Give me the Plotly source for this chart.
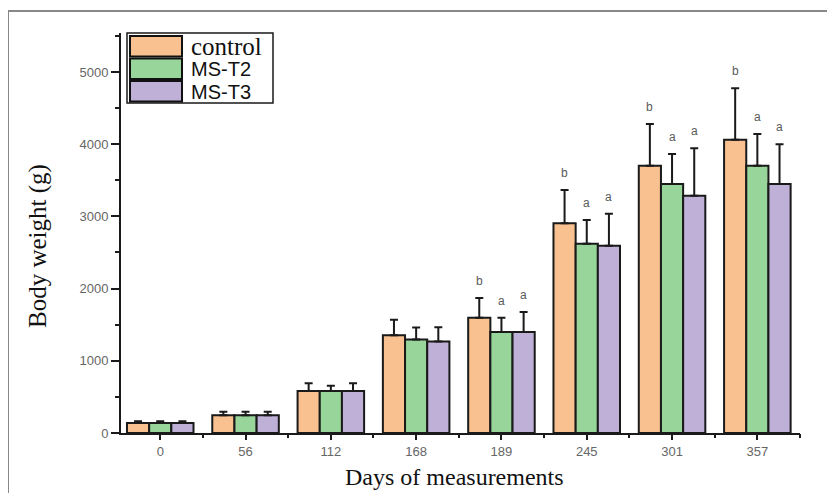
import plotly.graph_objects as go

days = ["0", "56", "112", "168", "189", "245", "301", "357"]
series_names = ["control", "MS-T2", "MS-T3"]
control = [140, 245, 580, 1355, 1595, 2905, 3700, 4060]
ms_t2 = [140, 245, 580, 1295, 1400, 2620, 3450, 3700]
ms_t3 = [140, 245, 580, 1268, 1400, 2595, 3285, 3450]
control_err = [22, 50, 110, 215, 275, 460, 580, 715]
ms_t2_err = [22, 50, 75, 165, 195, 330, 415, 440]
ms_t3_err = [22, 50, 110, 195, 275, 440, 660, 550]
control_lbl = ["", "", "", "", "b", "b", "b", "b"]
ms_t2_lbl = ["", "", "", "", "a", "a", "a", "a"]
ms_t3_lbl = ["", "", "", "", "a", "a", "a", "a"]
y_ticks = [0, 1000, 2000, 3000, 4000, 5000]
x_title = "Days of measurements"
y_title = "Body weight (g)"

colors = ["#F8C18F", "#98D59B", "#BEB0D7"]
values = [control, ms_t2, ms_t3]
errs = [control_err, ms_t2_err, ms_t3_err]
lbls = [control_lbl, ms_t2_lbl, ms_t3_lbl]

# the page body adds an 8px offset; work in screen pixels and convert
OFF = 8
W, H = 835 - 2 * OFF, 501 - 2 * OFF
PL, PR, PT, PB = 121, 800, 33, 433  # plot area in screen pixels
L, R, T, B = PL - OFF, (W + OFF) - PR, PT - OFF, (H + OFF) - PB

pw = PR - PL
ph = PB - PT
def px(x):
    return (x - PL) / pw
def py(y):
    return (PB - y) / ph

fig = go.Figure()
for name, vals, err, col in zip(series_names, values, errs, colors):
    fig.add_trace(go.Bar(
        x=days, y=vals, name=name,
        marker=dict(color=col, line=dict(color="#1a1a1a", width=2)),
        error_y=dict(type="data", symmetric=False, array=err,
                     arrayminus=[0] * len(err), color="#1a1a1a",
                     thickness=2, width=4),
        showlegend=False,
    ))

# invisible trace for boundary ticks axis
fig.add_trace(go.Scatter(x=days, y=[0] * len(days), xaxis="x2", yaxis="y",
                         mode="markers", marker=dict(opacity=0),
                         showlegend=False, hoverinfo="skip"))

# significance letters
offsets = [-1, 0, 1]
for k, (vals, err, lab) in enumerate(zip(values, errs, lbls)):
    for i, d in enumerate(days):
        if lab[i]:
            fig.add_annotation(
                x=i + offsets[k] * 0.26, y=vals[i] + err[i], xref="x", yref="y",
                text=lab[i], showarrow=False, yshift=17,
                font=dict(family="Liberation Sans, Arial", size=12, color="#5a5a5a"),
            )

# axis titles
fig.add_annotation(xref="paper", yref="paper", x=px(454), y=py(492), text=x_title,
                   showarrow=False, xanchor="center", yanchor="bottom",
                   font=dict(family="Liberation Serif, Times New Roman", size=24, color="#111111"))
fig.add_annotation(xref="paper", yref="paper", x=px(38), y=py(246), text=y_title,
                   showarrow=False, xanchor="center", yanchor="middle", textangle=-90,
                   font=dict(family="Liberation Serif, Times New Roman", size=25, color="#111111"))

shapes = []
# outer frame (top and left)
shapes.append(dict(type="line", xref="paper", yref="paper",
                   x0=px(8), x1=px(840), y0=py(11), y1=py(11),
                   line=dict(color="#888888", width=2)))
shapes.append(dict(type="line", xref="paper", yref="paper",
                   x0=px(8), x1=px(8), y0=py(11), y1=py(505),
                   line=dict(color="#888888", width=2)))
# custom legend
shapes.append(dict(type="rect", xref="paper", yref="paper",
                   x0=px(127), x1=px(273), y0=py(33), y1=py(103),
                   line=dict(color="#1a1a1a", width=1.5), fillcolor="white"))
for j, (name, col) in enumerate(zip(series_names, colors)):
    top = 36 + j * 22.5
    shapes.append(dict(type="rect", xref="paper", yref="paper",
                       x0=px(130), x1=px(182), y0=py(top), y1=py(top + 20.5),
                       line=dict(color="#111111", width=2), fillcolor=col))
    fig.add_annotation(xref="paper", yref="paper", x=px(189), y=py(top + 10.5),
                       text=name, showarrow=False, xanchor="left", yanchor="middle",
                       font=dict(family="Liberation Serif" if name == "control" else "Liberation Sans",
                                 size=25 if name == "control" else 20, color="#111111"))

fig.update_layout(
    width=W, height=H,
    margin=dict(l=L, r=R, t=T, b=B, pad=0, autoexpand=False),
    paper_bgcolor="white", plot_bgcolor="white",
    barmode="group", bargap=0.22, bargroupgap=0,
    shapes=shapes,
    xaxis=dict(type="category", categoryorder="array", categoryarray=days,
               range=[-0.46, 7.5], showline=True, linecolor="#1a1a1a", linewidth=2,
               ticks="outside", ticklen=5, tickwidth=1.5, tickcolor="#1a1a1a",
               tickfont=dict(family="Liberation Sans, Arial", size=13, color="#666666"),
               showgrid=False, zeroline=False),
    xaxis2=dict(type="category", categoryorder="array", categoryarray=days,
                range=[-0.46, 7.5], overlaying="x", tickson="boundaries",
                ticks="outside", ticklen=4, tickwidth=1.5, tickcolor="#1a1a1a",
                showticklabels=False, showline=False, showgrid=False, zeroline=False,
                anchor="y", side="bottom"),
    yaxis=dict(range=[0, 5540], tickvals=y_ticks, showline=True, linecolor="#1a1a1a",
               linewidth=2, ticks="outside", ticklen=8, tickwidth=1.5, tickcolor="#1a1a1a",
               minor=dict(dtick=500, tick0=0, ticks="outside", ticklen=4, tickwidth=1.5,
                          tickcolor="#1a1a1a", showgrid=False),
               tickfont=dict(family="Liberation Sans, Arial", size=13, color="#666666"),
               showgrid=False, zeroline=False),
)

fig.write_html("out.html")
